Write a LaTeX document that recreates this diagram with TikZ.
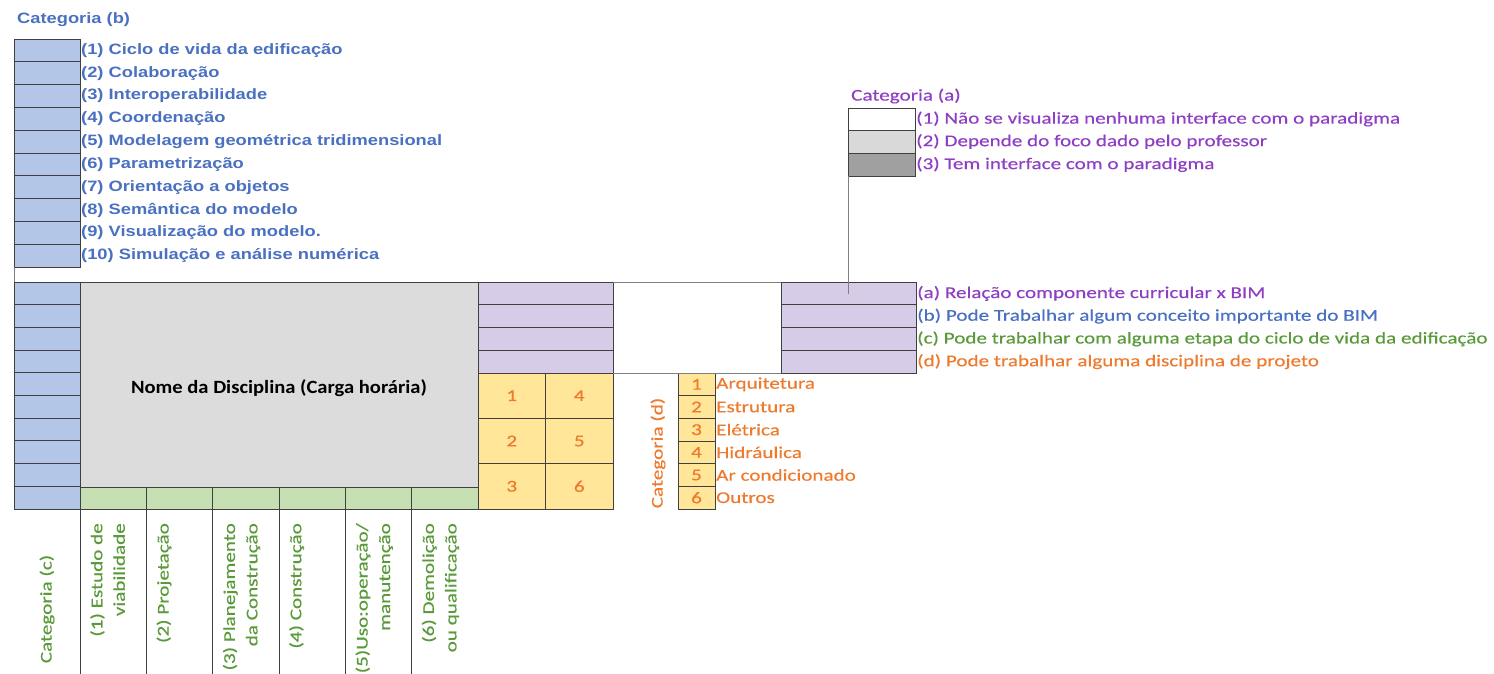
\documentclass[tikz,border=0pt]{standalone}
\usepackage{fontspec}
\setmainfont{Carlito}
\newfontfamily\calfont{Carlito}[FakeStretch=1.28,FakeBold=0.4]
\newfontfamily\nomefont{Carlito}[FakeStretch=1.1]
\newfontfamily\arifont{Liberation Sans}[FakeStretch=1.22]
\newcommand{\cf}{\calfont\fontsize{16.5bp}{22.5bp}\selectfont}
\newcommand{\af}{\arifont\bfseries\fontsize{15bp}{20bp}\selectfont}
\newcommand{\nf}{\nomefont\bfseries\fontsize{18.7bp}{22bp}\selectfont}
\definecolor{bfill}{HTML}{B4C6E7}
\definecolor{pfill}{HTML}{D6CCE8}
\definecolor{gfill}{HTML}{C6E0B4}
\definecolor{yfill}{HTML}{FFE699}
\definecolor{nfill}{HTML}{DCDCDC}
\definecolor{lgray}{HTML}{D9D9D9}
\definecolor{dgray}{HTML}{A0A0A0}
\definecolor{lc}{HTML}{404040}
\definecolor{gl}{HTML}{808080}
\definecolor{btx}{HTML}{4A70C0}
\definecolor{ptx}{HTML}{8F3FC4}
\definecolor{gtx}{HTML}{5A9A3A}
\definecolor{otx}{HTML}{EE7A2E}
\begin{document}
\begin{tikzpicture}[x=1bp,y=-1bp,
  cell/.style={draw=lc, line width=0.9bp, inner sep=0pt, outer sep=0pt, anchor=north west},
  lab/.style={anchor=west, inner sep=1bp, font=\cf},
  blab/.style={anchor=west, inner sep=1bp, font=\af, text=btx},
  vlab/.style={rotate=90, anchor=north east, inner sep=0pt, align=right, font=\cf, text=gtx},
  num/.style={font=\cf, text=otx, inner sep=0pt},
  gline/.style={draw=gl, line width=1bp},
  cline/.style={draw=lc, line width=0.9bp}]
\useasboundingbox (0,0) rectangle (1494,674);

% ---------- Categoria (b) legend ----------
\node[anchor=west, inner sep=1bp, font=\af, text=btx] (catb) at (16,20) {Categoria (b)};
\foreach \t [count=\i] in {(1) Ciclo de vida da edificação,(2) Colaboração,(3) Interoperabilidade,(4) Coordenação,(5) Modelagem geométrica tridimensional,(6) Parametrização,(7) Orientação a objetos,(8) Semântica do modelo,(9) Visualização do modelo.,(10) Simulação e análise numérica}{
  \node[cell, fill=bfill, minimum width=66bp, minimum height=22.8bp] (lb\i) at (14,{39+22.8*(\i-1)}) {};
  \node[blab] (tb\i) at (lb\i.east) {\t};
}

% ---------- Categoria (a) legend ----------
\node[anchor=west, inner sep=1bp, font=\cf, text=ptx] (cata) at (850,96) {Categoria (a)};
\node[cell, fill=white, minimum width=67bp, minimum height=22bp] (la1) at (848,108) {};
\node[cell, fill=lgray, minimum width=67bp, minimum height=23bp] (la2) at (848,130) {};
\node[cell, fill=dgray, minimum width=67bp, minimum height=23bp] (la3) at (848,153) {};
\node[lab, text=ptx] (ta1) at (la1.east) {(1) Não se visualiza nenhuma interface com o paradigma};
\node[lab, text=ptx] (ta2) at (la2.east) {(2) Depende do foco dado pelo professor};
\node[lab, text=ptx] (ta3) at (la3.east) {(3) Tem interface com o paradigma};

% ---------- main table ----------
\foreach \i in {1,...,10}{
  \node[cell, fill=bfill, minimum width=66bp, minimum height=22.7bp] (cb\i) at (14,{282+22.7*(\i-1)}) {};
}
\node[cell, fill=nfill, minimum width=398bp, minimum height=205bp] (nome) at (80,282) {};
\node[font=\nf, text=black, inner sep=0pt] (nomet) at (279,388) {Nome da Disciplina (Carga horária)};
\foreach \j in {1,...,6}{
  \node[cell, fill=gfill, minimum width=66.33bp, minimum height=22bp] (g\j) at ({80+66.33*(\j-1)},487) {};
}
\foreach \i in {1,...,4}{
  \node[cell, fill=pfill, minimum width=135bp, minimum height=22.75bp] (pc\i) at (478,{282+22.75*(\i-1)}) {};
  \node[cell, fill=pfill, minimum width=135bp, minimum height=22.75bp] (pr\i) at (781,{282+22.75*(\i-1)}) {};
}
% yellow grid
\foreach \r in {1,2,3}{
  \pgfmathtruncatemacro{\na}{\r}
  \pgfmathtruncatemacro{\nb}{\r+3}
  \node[cell, fill=yfill, minimum width=67.5bp, minimum height=45.33bp] (ya\r) at (478,{373+45.33*(\r-1)}) {};
  \node[cell, fill=yfill, minimum width=67.5bp, minimum height=45.33bp] (yb\r) at (545.5,{373+45.33*(\r-1)}) {};
  \node[num] (nya\r) at (ya\r.center) {\na};
  \node[num] (nyb\r) at (yb\r.center) {\nb};
}

% right legend labels
\node[lab, text=ptx] (tr1) at (pr1.east) {(a) Relação componente curricular x BIM};
\node[lab, text=btx] (tr2) at (pr2.east) {(b) Pode Trabalhar algum conceito importante do BIM};
\node[lab, text=gtx] (tr3) at (pr3.east) {(c) Pode trabalhar com alguma etapa do ciclo de vida da edificação};
\node[lab, text=otx] (tr4) at (pr4.east) {(d) Pode trabalhar alguma disciplina de projeto};

% ---------- Categoria (d) legend ----------
\foreach \t [count=\i] in {Arquitetura,Estrutura,Elétrica,Hidráulica,Ar condicionado,Outros}{
  \node[cell, fill=yfill, minimum width=37bp, minimum height=22.67bp] (ld\i) at (678,{373+22.67*(\i-1)}) {};
  \node[num] (nd\i) at (ld\i.center) {\i};
  \node[lab, text=otx] (td\i) at (ld\i.east) {\t};
}
\node[rotate=90, font=\cf, text=otx, inner sep=0pt] (catd) at (658,453) {Categoria (d)};

% ---------- connecting lines ----------
\coordinate (vend) at (848,294);
\draw[gline] (la3.south west) -- (vend);
\draw[gline] (pc1.north east) -- (pr1.north west);
\draw[gline] (pc4.south east) -- (pr4.south west);
\draw[gline] (lb10.south west) -- (cb1.north west);
\foreach \j in {1,...,6}{
  \coordinate (gb\j) at ({80+66.33*(\j-1)},674);
  \draw[cline] (g\j.south west) -- (gb\j);
}

% ---------- Categoria (c) labels ----------
\node[rotate=90, font=\cf, text=gtx, inner sep=0pt] (catc) at (47,609) {Categoria (c)};
\foreach \t [count=\j] in {{(1) Estudo de\\viabilidade},{(2) Projetação},{(3) Planejamento\\da Construção},{(4) Construção},{(5)Uso:operação/\\manutenção},{(6) Demolição\\ou qualificação}}{
  \node[vlab] (vc\j) at ({80+66.33*(\j-1)+10},523) {\t};
}
\end{tikzpicture}
\end{document}
